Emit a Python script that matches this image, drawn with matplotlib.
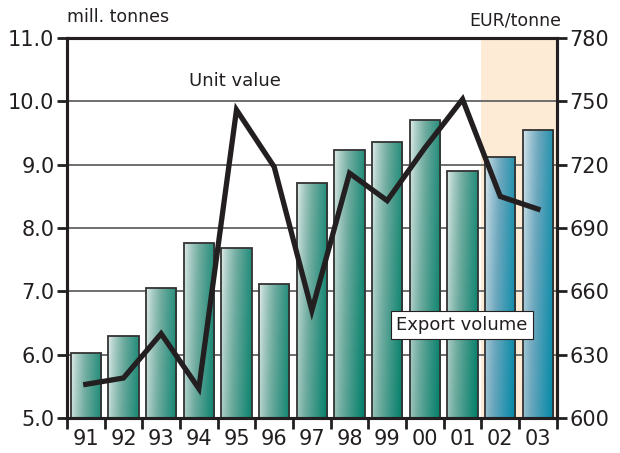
import matplotlib.pyplot as plt
import numpy as np
from matplotlib.patches import Rectangle

# Data
years = ['91', '92', '93', '94', '95', '96', '97', '98', '99', '00', '01', '02', '03']
export_volume = [6.03, 6.30, 7.05, 7.76, 7.69, 7.12, 8.71, 9.23, 9.36, 9.71, 8.90, 9.12, 9.55]
unit_value = [616, 619, 640, 614, 746, 719, 651, 716, 703, 728, 751, 705, 699]
n_forecast = 2

plt.rcParams['font.family'] = 'DejaVu Sans'

fig = plt.figure(figsize=(6.2, 4.53), dpi=100)
ax = fig.add_axes([0.108, 0.077, 0.790, 0.839])
x = np.arange(len(years))

# forecast shading
ax.axvspan(len(years) - n_forecast - 0.5, len(years) - 0.5, color='#fdebd5', zorder=0, lw=0)

# horizontal grid
for yv in np.arange(6.0, 11.0, 1.0):
    ax.axhline(yv, color='#6e6e6e', lw=1.4, zorder=1)


def bar_fill(light, mid, dark, height):
    # diagonal shading: light in the top-left corner, dark towards the right edge
    u, v = np.meshgrid(np.linspace(0, 1, 40), np.linspace(0, 1, 200))
    s = np.clip(0.78 * u + 0.22 * v * min(height / 4.0, 1.0), 0, 1) ** 0.75
    light, mid, dark = (np.array(c) / 255 for c in (light, mid, dark))
    a = np.clip(s * 2, 0, 1)[..., None]
    b = np.clip(s * 2 - 1, 0, 1)[..., None]
    return np.where(s[..., None] < 0.5, light * (1 - a) + mid * a, mid * (1 - b) + dark * b)


w = 0.8
for i, val in enumerate(export_volume):
    if i >= len(years) - n_forecast:
        img = bar_fill((222, 234, 240), (110, 168, 190), (0, 136, 166), val - 5.0)
    else:
        img = bar_fill((230, 239, 237), (112, 172, 160), (0, 126, 104), val - 5.0)
    rect = Rectangle((x[i] - w / 2, 5.0), w, val - 5.0, facecolor='none',
                     edgecolor='#333333', lw=1.3, zorder=3)
    ax.add_patch(rect)
    im = ax.imshow(img, extent=(x[i] - w / 2, x[i] + w / 2, 5.0, val), origin='upper',
                   aspect='auto', zorder=2, interpolation='bilinear')
    im.set_clip_path(rect)

ax.set_xlim(-0.5, len(years) - 0.5)
ax.set_ylim(5.0, 11.0)

# unit value on the right axis
ax2 = ax.twinx()
ax2.set_ylim(600, 780)
ax2.plot(x, unit_value, color='#231f20', lw=3.8, solid_joinstyle='miter', zorder=5)

for a in (ax, ax2):
    for s in a.spines.values():
        s.set_linewidth(2.2)
        s.set_color('#231f20')

ax.set_yticks(np.arange(5.0, 11.01, 1.0))
ax.set_yticklabels([f'{t:.1f}' for t in np.arange(5.0, 11.01, 1.0)])
ax2.set_yticks(np.arange(600, 781, 30))
ax.tick_params(axis='y', length=7, width=2, labelsize=15, pad=2, colors='#231f20')
ax2.tick_params(axis='y', length=7, width=2, labelsize=15, pad=2, colors='#231f20')

ax.set_xticks(x)
ax.set_xticklabels(years)
ax.tick_params(axis='x', length=0, labelsize=15, pad=8, colors='#231f20')
ax.set_xticks(np.arange(-0.5, len(years), 1.0), minor=True)
ax.tick_params(axis='x', which='minor', length=8, width=2, color='#231f20')

fig.text(0.108, 0.962, 'mill. tonnes', fontsize=12.5, ha='left', va='center', color='#231f20')
fig.text(0.905, 0.955, 'EUR/tonne', fontsize=12.5, ha='right', va='center', color='#231f20')

ax.text(3.95, 10.32, 'Unit value', fontsize=13, ha='center', va='center', color='#231f20', zorder=6)
ax.text(9.98, 6.47, 'Export volume', fontsize=13, ha='center', va='center', color='#231f20',
        zorder=6, bbox=dict(boxstyle='square,pad=0.3', fc='white', ec='#231f20', lw=0.8))

fig.savefig('out.png', dpi=100)
